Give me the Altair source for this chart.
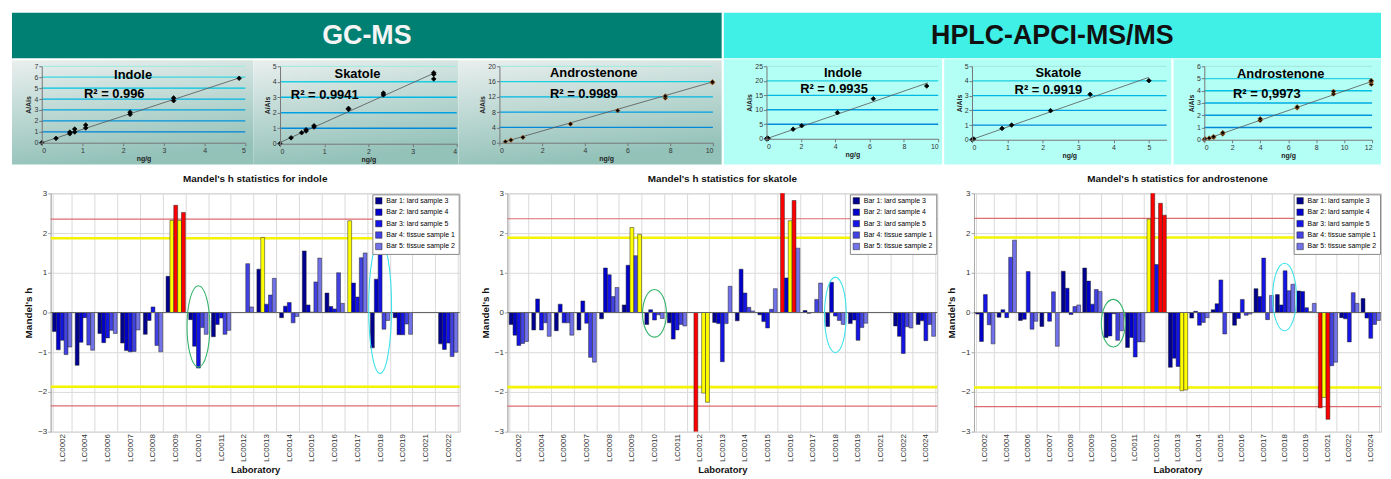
import altair as alt
import pandas as pd

FONT = "Liberation Sans"

# ---------------- banner texts ----------------
GC_TITLE = "GC-MS"
LC_TITLE = "HPLC-APCI-MS/MS"

# ---------------- calibration curves (x = ng/g, y = A/Ais) ----------------
GC_INDOLE_X = [0.00, 0.35, 0.69, 0.69, 0.81, 0.81, 1.08, 1.08, 2.17, 2.17, 3.24, 3.24, 4.85]
GC_INDOLE_Y = [0.00, 0.40, 0.82, 0.97, 0.98, 1.25, 1.35, 1.62, 2.60, 2.80, 3.85, 4.10, 5.90]
GC_INDOLE_FIT_X = [0.0, 4.85]
GC_INDOLE_FIT_Y = [0.0, 5.93]

GC_SKATOLE_X = [0.00, 0.25, 0.49, 0.59, 0.59, 0.77, 0.77, 1.55, 1.55, 2.34, 2.34, 3.48, 3.48, 3.48]
GC_SKATOLE_Y = [0.00, 0.38, 0.71, 0.82, 0.90, 1.08, 1.16, 2.22, 2.28, 3.15, 3.27, 4.18, 4.48, 4.58]
GC_SKATOLE_FIT_X = [0.0, 3.48]
GC_SKATOLE_FIT_Y = [0.08, 4.55]

GC_ANDRO_X = [0.28, 0.54, 1.10, 3.33, 5.54, 7.77, 7.77, 9.98, 9.98]
GC_ANDRO_Y = [0.26, 0.70, 1.40, 4.90, 8.40, 11.70, 12.20, 15.70, 15.90]
GC_ANDRO_FIT_X = [0.28, 9.98]
GC_ANDRO_FIT_Y = [0.30, 15.90]

LC_INDOLE_X = [0.00, 0.06, 0.10, 1.55, 2.05, 4.13, 6.22, 9.33]
LC_INDOLE_Y = [0.00, 0.25, 0.10, 3.30, 4.50, 9.00, 13.80, 18.20]
LC_INDOLE_FIT_X = [0.0, 9.4]
LC_INDOLE_FIT_Y = [0.0, 19.3]

LC_SKATOLE_X = [0.00, 0.05, 0.85, 1.12, 2.22, 3.34, 5.00]
LC_SKATOLE_Y = [0.00, 0.05, 0.77, 1.00, 1.98, 3.09, 4.02]
LC_SKATOLE_FIT_X = [0.0, 5.0]
LC_SKATOLE_FIT_Y = [0.02, 4.25]

LC_ANDRO_X = [0.00, 0.05, 0.35, 0.66, 0.66, 1.32, 1.32, 4.00, 4.00, 6.64, 6.64, 9.24, 9.24, 11.94, 11.94, 11.94]
LC_ANDRO_Y = [0.00, 0.08, 0.13, 0.18, 0.26, 0.47, 0.58, 1.58, 1.71, 2.60, 2.68, 3.74, 3.95, 4.53, 4.74, 4.84]
LC_ANDRO_FIT_X = [0.0, 11.94]
LC_ANDRO_FIT_Y = [0.0, 4.75]

CAL_NAMES = ["Indole", "Skatole", "Androstenone", "Indole", "Skatole", "Androstenone"]
CAL_R2 = ["R² = 0.996", "R² = 0.9941", "R² = 0.9989", "R² = 0.9935", "R² = 0.9919", "R² = 0,9973"]

GC_INDOLE_XT = [0, 1, 2, 3, 4, 5]
GC_INDOLE_YT = [0, 1, 2, 3, 4, 5, 6, 7]
GC_SKATOLE_XT = [0, 1, 2, 3, 4]
GC_SKATOLE_YT = [0, 1, 2, 3, 4, 5]
GC_ANDRO_XT = [0, 2, 4, 6, 8, 10]
GC_ANDRO_YT = [0, 4, 8, 12, 16, 20]
LC_INDOLE_XT = [0, 2, 4, 6, 8, 10]
LC_INDOLE_YT = [0, 5, 10, 15, 20, 25]
LC_SKATOLE_XT = [0, 1, 2, 3, 4, 5]
LC_SKATOLE_YT = [0, 1, 2, 3, 4, 5]
LC_ANDRO_XT = [0, 2, 4, 6, 8, 10, 12]
LC_ANDRO_YT = [0, 1, 2, 3, 4, 5, 6]

# ---------------- Mandel's h statistics ----------------
SERIES = ["Bar 1: lard sample 3", "Bar 2: lard sample 4", "Bar 3: lard sample 5",
          "Bar 4: tissue sample 1", "Bar 5: tissue sample 2"]
FLAG5 = "beyond 5 % limit"
FLAG1 = "beyond 1 % limit"

LABS_INDOLE = ["LC0002", "LC0004", "LC0006", "LC0007", "LC0008", "LC0009", "LC0010", "LC0011",
               "LC0012", "LC0013", "LC0014", "LC0015", "LC0016", "LC0017", "LC0018", "LC0019",
               "LC0021", "LC0022"]
LABS_OTHER = LABS_INDOLE + ["LC0024"]

INDOLE_H = [
    [-0.48, -0.94, -0.70, -1.06, -0.87],
    [-1.33, -0.75, -0.13, -0.82, -0.95],
    [-0.53, -0.76, -0.64, -0.45, -0.53],
    [-0.77, -0.96, -0.99, -0.98, -0.44],
    [-0.55, -0.20, 0.14, -0.83, -0.99],
    [0.91, 2.32, 2.70, 2.32, 2.52],
    [-0.18, -0.85, -1.40, -0.38, -0.55],
    [-0.61, -0.30, -0.14, -0.55, -0.45],
    [0.00, 0.00, 0.00, 1.23, 0.14],
    [1.09, 1.89, 0.21, 0.44, 0.86],
    [-0.13, 0.16, 0.25, -0.26, -0.10],
    [1.55, 0.19, 0.01, 0.77, 1.37],
    [0.49, 0.15, 0.09, 1.00, 0.23],
    [2.31, 0.74, 0.39, 1.38, 1.50],
    [-0.89, 0.84, 1.65, -0.42, -0.20],
    [-0.13, -0.56, -0.56, -0.29, -0.55],
    [0.00, 0.00, 0.00, 0.00, 0.00],
    [-0.79, -0.93, -0.77, -1.11, -1.00],
]
SKATOLE_H = [
    [-0.30, -0.57, -0.83, -0.78, -0.73],
    [-0.44, 0.34, -0.44, -0.26, -0.60],
    [-0.46, 0.21, -0.26, -0.26, -0.57],
    [-0.44, 0.29, -0.27, -1.13, -1.25],
    [-0.16, 1.12, 0.95, 0.40, 0.63],
    [0.19, 1.19, 2.14, 1.43, 1.97],
    [-0.30, 0.07, -0.19, -0.06, -0.15],
    [-0.26, -0.67, -0.44, -0.30, -0.34],
    [0.00, -3.30, 0.00, -2.03, -2.26],
    [-0.25, -0.28, -1.24, -0.28, 0.66],
    [-0.21, 1.09, 0.49, 0.13, 0.04],
    [-0.06, -0.23, -0.39, 0.08, 0.60],
    [3.20, 0.87, 2.31, 2.82, 1.62],
    [0.05, -0.02, 0.00, 0.33, 0.74],
    [-0.35, 0.76, -0.09, -0.20, -0.30],
    [-0.28, -0.19, -0.70, -0.38, -0.27],
    [0.00, 0.00, 0.00, 0.00, 0.00],
    [-0.34, -0.60, -1.03, -0.36, -0.39],
    [-0.30, -0.21, -0.71, -0.30, -0.60],
]
ANDRO_H = [
    [-0.04, -0.73, 0.45, -0.31, -0.79],
    [-0.12, 0.07, -0.13, 1.39, 1.82],
    [-0.20, -0.17, 1.03, -0.42, -0.22],
    [-0.35, 0.00, -0.22, 0.52, -0.85],
    [1.04, 0.61, -0.05, 0.15, 0.19],
    [1.12, 0.79, 0.21, 0.58, 0.53],
    [-0.63, -0.59, -0.03, -0.70, -0.46],
    [-0.88, -0.63, -1.12, -0.74, -0.74],
    [2.35, 3.10, 1.21, 2.75, 2.45],
    [-1.38, -1.15, -1.36, -1.97, -1.95],
    [-0.14, 0.03, -0.32, -0.25, -0.13],
    [0.07, 0.22, 0.82, -0.54, 0.00],
    [-0.32, -0.15, 0.33, -0.07, -0.04],
    [0.60, 0.40, 1.37, -0.18, 0.43],
    [0.45, 0.19, 1.05, 0.55, 0.71],
    [0.54, 0.53, 0.12, 0.02, 0.23],
    [-2.40, -2.14, -2.69, -1.34, -1.25],
    [-0.13, -0.16, -0.74, 0.50, 0.23],
    [0.35, -0.14, -0.65, -0.30, -0.20],
]
# critical values (5 %, 1 %)
INDOLE_CRIT = [1.87, 2.35]
SKATOLE_CRIT = [1.88, 2.36]
ANDRO_CRIT = [1.89, 2.37]

# ---------------- styles ----------------
BLUES = ["#000090", "#0000CC", "#1414E6", "#4242E4", "#7272EA"]
GC_BANNER = "#007F73"
LC_BANNER = "#40EFE6"
GC_PANEL = {"gradient": "linear", "x1": 0, "y1": 0, "x2": 0.25, "y2": 1,
            "stops": [{"offset": 0, "color": "#E9EFEE"}, {"offset": 1, "color": "#93C2B9"}]}
LC_PANEL = "#B3FEF5"
ONE = alt.Data(values=[{"a": 1}])


def spacer():
    return alt.Chart(ONE).mark_rule(color="white", strokeWidth=0.5).encode(
        x=alt.value(0), x2=alt.value(1), y=alt.value(0), y2=alt.value(0)).properties(width=1, height=1)


def banner(text, w, h, fill, color, inset):
    white = alt.Chart(ONE).mark_rect(fill="white", strokeWidth=0).encode(
        x=alt.value(0), x2=alt.value(w), y=alt.value(0), y2=alt.value(h))
    band = alt.Chart(ONE).mark_rect(fill=fill, strokeWidth=0).encode(
        x=alt.value(inset), x2=alt.value(w), y=alt.value(0), y2=alt.value(h - 1))
    txt = alt.Chart(ONE).mark_text(text=text, font=FONT, fontSize=27, fontWeight="bold",
                                   color=color, baseline="middle", align="center").encode(
        x=alt.value((w + inset) / 2), y=alt.value(h / 2))
    return alt.layer(white, band, txt).properties(width=w, height=h)


CAL_T = 7
CAL_TOTAL = 99
ROW_GAP = 9


def calib(xs, ys, fx, fy, xdom, xt, ydom, yt, name, r2, geo, kind, tpos, rpos, edge="black"):
    L, w, R, h = geo
    T = CAL_T
    B = CAL_TOTAL - h
    pts = pd.DataFrame({"x": xs, "y": ys})
    fit = pd.DataFrame({"x": fx, "y": fy})
    grd = pd.DataFrame({"t": [t for t in yt if t > 0]})
    xsc = alt.Scale(domain=xdom, nice=False, zero=False)
    ysc = alt.Scale(domain=ydom, nice=False, zero=False)
    ax = dict(labelFontSize=7, labelColor="#333333", titleFontSize=7, titleFontWeight="bold",
              titleColor="#222222", tickSize=3, tickColor="#777777", domainColor="#777777",
              grid=False, zindex=1, labelFont=FONT, titleFont=FONT, labelPadding=1)
    xaxis = alt.Axis(values=xt, title="ng/g", titlePadding=1, **ax)
    yaxis = alt.Axis(values=yt, title="A/Ais", titlePadding=2, **ax)
    white = alt.Chart(ONE).mark_rect(fill="white", strokeWidth=0).encode(
        x=alt.value(-L), x2=alt.value(w + R), y=alt.value(-T), y2=alt.value(h + B + ROW_GAP))
    if kind == "gc":
        fill, il, it = GC_PANEL, 0, 1
    else:
        fill, il, it = LC_PANEL, 2, 0
    panel = alt.Chart(ONE).mark_rect(fill=fill, strokeWidth=0).encode(
        x=alt.value(-L + il), x2=alt.value(w + R), y=alt.value(-T + it), y2=alt.value(h + B))
    grid = alt.Chart(grd).transform_calculate(f=f"datum.t / {ydom[1]}").mark_rule(strokeWidth=1.3).encode(
        y=alt.Y("t:Q", scale=ysc, axis=yaxis),
        x=alt.value(0), x2=alt.value(w),
        color=alt.Color("f:Q", scale=alt.Scale(domain=[0, 0.85, 1],
                                               range=["#2F6FCB", "#2FD4E2", "#A6EAE0"]), legend=None))
    line = alt.Chart(fit).mark_line(color="#555555", strokeWidth=0.8).encode(
        x=alt.X("x:Q", scale=xsc, axis=xaxis), y=alt.Y("y:Q", scale=ysc, axis=yaxis))
    dots = alt.Chart(pts).mark_point(shape="diamond", filled=True, size=22, fill="black",
                                     stroke=edge, strokeWidth=0.7, opacity=1).encode(
        x=alt.X("x:Q", scale=xsc, axis=xaxis),
        y=alt.Y("y:Q", scale=ysc, axis=yaxis))
    t1 = alt.Chart(ONE).mark_text(text=name, font=FONT, fontSize=13, fontWeight="bold",
                                  color="black", baseline="middle").encode(
        x=alt.value(tpos[0]), y=alt.value(tpos[1]))
    t2 = alt.Chart(ONE).mark_text(text=r2, font=FONT, fontSize=13, fontWeight="bold",
                                  color="black", baseline="middle").encode(
        x=alt.value(rpos[0]), y=alt.value(rpos[1]))
    return alt.layer(white, panel, grid, line, dots, t1, t2).properties(width=w, height=h)


def ellipse_path(a):
    return f"M{-a:.3f},0A{a:.3f},1,0,1,0,{a:.3f},0A{a:.3f},1,0,1,0,{-a:.3f},0Z"


def mandel(labs, rows, title, crit, L, w, ellipses):
    c5, c1 = crit
    recs = []
    for lab, vals in zip(labs, rows):
        for s, v in zip(SERIES, vals):
            if abs(v) >= c1:
                ck = FLAG1
            elif abs(v) >= c5:
                ck = FLAG5
            else:
                ck = s
            recs.append({"lab": lab, "series": s, "h": v, "ck": ck})
    df = pd.DataFrame(recs)
    h = 240
    xsc = alt.Scale(domain=labs, paddingInner=0.15, paddingOuter=0.08)
    ysc = alt.Scale(domain=[-3, 3], nice=False, zero=False)
    xaxis = alt.Axis(title="Laboratory", labelAngle=-90, labelFontSize=8, labelColor="#333333",
                     labelPadding=2, grid=True, gridColor="#DADADA", tickBand="extent", ticks=False,
                     domain=False, titleFontSize=9.5, titleFontWeight="bold", titlePadding=3,
                     titleColor="#111111", labelFont=FONT, titleFont=FONT)
    yaxis = alt.Axis(values=[-3, -2, -1, 0, 1, 2, 3], title="Mandel's h", labelFontSize=8,
                     labelColor="#333333", grid=True, gridColor="#DADADA", domainColor="#AAAAAA",
                     tickColor="#AAAAAA", tickSize=3, labelPadding=1, titleFontSize=10,
                     titleFontWeight="bold", titlePadding=4, titleColor="#111111",
                     labelFont=FONT, titleFont=FONT)
    anchor = alt.Chart(ONE).mark_rule(color="white", strokeWidth=0.5).encode(
        x=alt.value(-L), x2=alt.value(-L + 1), y=alt.value(0), y2=alt.value(0))
    lim5 = alt.Chart(pd.DataFrame({"v": [c5, -c5]})).mark_rule(color="#F4F400", strokeWidth=2.6).encode(
        y=alt.Y("v:Q", scale=ysc, axis=yaxis))
    lim1 = alt.Chart(pd.DataFrame({"v": [c1, -c1]})).mark_rule(color="#DB6C70", strokeWidth=1.2).encode(
        y=alt.Y("v:Q", scale=ysc, axis=yaxis))
    bars = alt.Chart(df).mark_bar(stroke="#222222", strokeWidth=0.5, clip=True).encode(
        x=alt.X("lab:N", scale=xsc, axis=xaxis),
        xOffset=alt.XOffset("series:N", sort=SERIES, scale=alt.Scale(paddingInner=0, paddingOuter=0)),
        y=alt.Y("h:Q", scale=ysc, axis=yaxis),
        color=alt.Color("ck:N", scale=alt.Scale(domain=SERIES + [FLAG5, FLAG1],
                                                range=BLUES + ["#FFFF00", "#FF0000"]),
                        legend=alt.Legend(values=SERIES, title=None, orient="top-right", offset=1,
                                          padding=3, fillColor="white", strokeColor="#888888",
                                          labelFontSize=7, labelFont=FONT, symbolType="square",
                                          symbolSize=42, symbolStrokeColor="#222222",
                                          symbolStrokeWidth=0.5, rowPadding=2.5, labelLimit=200)))
    zero = alt.Chart(pd.DataFrame({"v": [0]})).mark_rule(color="#666666", strokeWidth=1).encode(
        y=alt.Y("v:Q", scale=ysc, axis=yaxis))
    layers = [anchor, lim5, lim1, bars, zero]
    for lab, val, ew, eh, col in ellipses:
        layers.append(
            alt.Chart(pd.DataFrame({"lab": [lab], "h": [val]})).mark_point(
                shape=ellipse_path(ew / eh), size=eh * eh, stroke=col, strokeWidth=1.1,
                filled=False, opacity=1).encode(
                x=alt.X("lab:N", scale=xsc, axis=xaxis), y=alt.Y("h:Q", scale=ysc, axis=yaxis)))
    return alt.layer(*layers).properties(
        width=w, height=h,
        title=alt.TitleParams(title, fontSize=10, fontWeight="bold", font=FONT, offset=5,
                              color="#111111"),
        view=alt.ViewBackground(stroke="#CCCCCC", strokeWidth=1, fill="white"))


GREEN = "#34B36A"
CYAN = "#3EE2EA"

row1 = alt.hconcat(
    spacer(),
    banner(GC_TITLE, 715, 47, GC_BANNER, "#F4F4F4", 0),
    banner(LC_TITLE, 664, 47, LC_BANNER, "#111111", 2),
    spacing=0)

row2 = alt.hconcat(
    spacer(),
    calib(GC_INDOLE_X, GC_INDOLE_Y, GC_INDOLE_FIT_X, GC_INDOLE_FIT_Y, [0, 5], GC_INDOLE_XT, [0, 7],
          GC_INDOLE_YT, CAL_NAMES[0], CAL_R2[0], (30, 205, 8, 77), "gc", (92, 9), (73, 28)),
    calib(GC_SKATOLE_X, GC_SKATOLE_Y, GC_SKATOLE_FIT_X, GC_SKATOLE_FIT_Y, [0, 4], GC_SKATOLE_XT, [0, 5],
          GC_SKATOLE_YT, CAL_NAMES[1], CAL_R2[1], (27, 178, 2, 78), "gc", (78, 8), (45, 29)),
    calib(GC_ANDRO_X, GC_ANDRO_Y, GC_ANDRO_FIT_X, GC_ANDRO_FIT_Y, [0, 10], GC_ANDRO_XT, [0, 20],
          GC_ANDRO_YT, CAL_NAMES[2], CAL_R2[2], (41, 215, 9, 77), "gc", (95, 7), (85, 28),
          edge="#B5651D"),
    calib(LC_INDOLE_X, LC_INDOLE_Y, LC_INDOLE_FIT_X, LC_INDOLE_FIT_Y, [0, 10], LC_INDOLE_XT, [0, 25],
          LC_INDOLE_YT, CAL_NAMES[3], CAL_R2[3], (45, 173, 4, 73), "lc", (77, 7), (68, 23)),
    calib(LC_SKATOLE_X, LC_SKATOLE_Y, LC_SKATOLE_FIT_X, LC_SKATOLE_FIT_Y, [0, 5.5], LC_SKATOLE_XT, [0, 5],
          LC_SKATOLE_YT, CAL_NAMES[4], CAL_R2[4], (30, 196, 5, 74), "lc", (87, 7), (77, 24)),
    calib(LC_ANDRO_X, LC_ANDRO_Y, LC_ANDRO_FIT_X, LC_ANDRO_FIT_Y, [0, 12], LC_ANDRO_XT, [0, 6],
          LC_ANDRO_YT, CAL_NAMES[5], CAL_R2[5], (33, 169, 9, 74), "lc", (77, 8), (63, 28),
          edge="#B5651D"),
    spacing=0).resolve_scale(x="independent", y="independent", color="independent")

row3 = alt.hconcat(
    spacer(),
    mandel(LABS_INDOLE, INDOLE_H, "Mandel's h statistics for indole", INDOLE_CRIT, 38, 412,
           [("LC0010", -0.35, 23, 82, GREEN), ("LC0018", 0.14, 23, 134, CYAN)]),
    mandel(LABS_OTHER, SKATOLE_H, "Mandel's h statistics for skatole", SKATOLE_CRIT, 45, 433,
           [("LC0010", -0.02, 24, 48, GREEN), ("LC0018", -0.06, 22, 76, CYAN)]),
    mandel(LABS_OTHER, ANDRO_H, "Mandel's h statistics for androstenone", ANDRO_CRIT, 34, 410,
           [("LC0010", -0.27, 24, 48, GREEN), ("LC0018", 0.39, 24, 68, CYAN)]),
    spacing=0).resolve_scale(x="independent", y="independent", color="independent").resolve_legend(
    color="independent")

chart = alt.vconcat(row1, row2, row3, spacing=0).resolve_scale(
    x="independent", y="independent", color="independent").properties(
    padding={"left": 1, "top": 2, "right": 0, "bottom": 0}, background="white").configure_view(
    strokeWidth=0).configure_axis(labelFont=FONT, titleFont=FONT).configure_legend(
    labelFont=FONT).configure_title(font=FONT)

chart.save("out.html", embed_options={"renderer": "svg", "actions": False})
